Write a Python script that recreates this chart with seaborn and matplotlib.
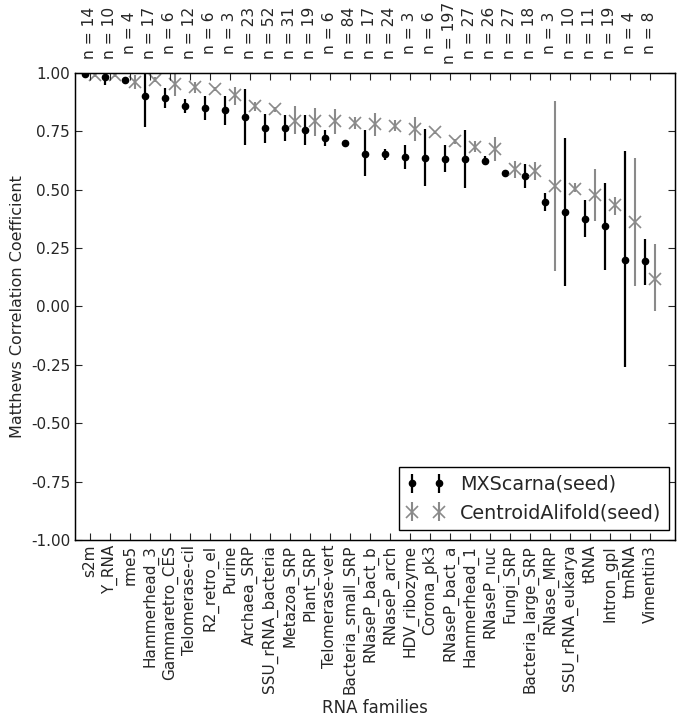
import numpy as np
import matplotlib
matplotlib.use("Agg")
import matplotlib.pyplot as plt
import seaborn as sns

# --- data ---
families = ["s2m", "Y_RNA", "rme5", "Hammerhead_3", "Gammaretro_CES", "Telomerase-cil",
            "R2_retro_el", "Purine", "Archaea_SRP", "SSU_rRNA_bacteria", "Metazoa_SRP",
            "Plant_SRP", "Telomerase-vert", "Bacteria_small_SRP", "RNaseP_bact_b",
            "RNaseP_arch", "HDV_ribozyme", "Corona_pk3", "RNaseP_bact_a", "Hammerhead_1",
            "RNaseP_nuc", "Fungi_SRP", "Bacteria_large_SRP", "RNase_MRP",
            "SSU_rRNA_eukarya", "tRNA", "Intron_gpI", "tmRNA", "Vimentin3"]
n_seqs = [14, 10, 4, 17, 6, 12, 6, 3, 23, 52, 31, 19, 6, 84, 17,
          24, 3, 6, 197, 27, 26, 27, 18, 3, 10, 11, 19, 4, 8]

mx_mean = [0.995, 0.985, 0.968, 0.900, 0.895, 0.858, 0.852, 0.840, 0.813, 0.766,
           0.766, 0.756, 0.720, 0.700, 0.655, 0.651, 0.640, 0.638, 0.633, 0.632,
           0.624, 0.572, 0.557, 0.446, 0.405, 0.376, 0.343, 0.200, 0.193]
mx_low = [0.990, 0.950, 0.966, 0.770, 0.850, 0.828, 0.800, 0.778, 0.692, 0.700,
          0.710, 0.690, 0.687, 0.698, 0.557, 0.627, 0.588, 0.517, 0.576, 0.506,
          0.604, 0.560, 0.506, 0.407, 0.089, 0.297, 0.157, -0.260, 0.093]
mx_high = [1.000, 1.000, 0.970, 1.000, 0.936, 0.890, 0.900, 0.900, 0.932, 0.826,
           0.820, 0.820, 0.754, 0.702, 0.756, 0.675, 0.693, 0.760, 0.690, 0.757,
           0.644, 0.583, 0.610, 0.485, 0.722, 0.455, 0.528, 0.665, 0.289]

ca_mean = [0.990, 0.990, 0.962, 0.970, 0.952, 0.939, 0.933, 0.904, 0.857, 0.844,
           0.795, 0.795, 0.795, 0.785, 0.780, 0.775, 0.760, 0.746, 0.708, 0.684,
           0.675, 0.588, 0.580, 0.518, 0.505, 0.476, 0.435, 0.360, 0.118]
ca_low = [0.985, 0.985, 0.930, 0.960, 0.900, 0.914, 0.924, 0.862, 0.836, 0.834,
          0.740, 0.730, 0.740, 0.760, 0.730, 0.750, 0.708, 0.740, 0.698, 0.660,
          0.623, 0.552, 0.540, 0.154, 0.490, 0.368, 0.390, 0.086, -0.021]
ca_high = [1.000, 1.000, 0.993, 0.985, 1.000, 0.960, 0.942, 0.942, 0.876, 0.855,
           0.860, 0.850, 0.845, 0.810, 0.830, 0.800, 0.810, 0.752, 0.718, 0.710,
           0.726, 0.623, 0.620, 0.880, 0.530, 0.587, 0.470, 0.637, 0.267]

sns.set_style("ticks", {"xtick.direction": "in", "ytick.direction": "in",
                        "axes.edgecolor": "black"})
plt.rcParams["font.family"] = ["DejaVu Sans"]

fig = plt.figure(figsize=(6.83, 7.25), dpi=100)
ax = fig.add_axes([75 / 683, 185 / 725, 600 / 683, 467 / 725])

pos = np.arange(len(families))
mx_mean = np.array(mx_mean)
ca_mean = np.array(ca_mean)
mx_err = [mx_mean - np.array(mx_low), np.array(mx_high) - mx_mean]
ca_err = [ca_mean - np.array(ca_low), np.array(ca_high) - ca_mean]

ax.errorbar(pos - 0.23, mx_mean, yerr=mx_err, fmt="o", color="black", ms=4.5,
            elinewidth=1.6, capsize=0, label="MXScarna(seed)")
ax.errorbar(pos + 0.23, ca_mean, yerr=ca_err, fmt="x", color="#8a8a8a", ms=9, mew=1.2,
            elinewidth=1.5, capsize=0, label="CentroidAlifold(seed)")

ax.set_xlim(-0.75, 29.25)
ax.set_ylim(-1.0, 1.0)
ax.set_yticks(np.arange(-1.0, 1.01, 0.25))
ax.set_yticklabels(["%.2f" % v for v in np.arange(-1.0, 1.01, 0.25)])
ax.set_xticks(pos)
ax.set_xticklabels(families, rotation=90, fontsize=11)
ax.tick_params(axis="y", labelsize=11, right=True, length=5, width=0.8)
ax.tick_params(axis="x", length=5, width=0.8)
for sp in ax.spines.values():
    sp.set_linewidth(1.0)
ax.set_xlabel("RNA families", fontsize=12, labelpad=3)
ax.set_ylabel("Matthews Correlation Coefficient", fontsize=11.5)

# sample counts along the top
ax2 = ax.twiny()
ax2.set_xlim(ax.get_xlim())
ax2.set_xticks(pos)
ax2.set_xticklabels(["n = %d" % n for n in n_seqs], rotation=90, va="center",
                    fontsize=11.2)
ax2.tick_params(axis="x", direction="in", length=5, width=0.8, pad=29)

leg = ax.legend(loc="lower right", bbox_to_anchor=(0.99, 0.021), borderaxespad=0,
                numpoints=2, handlelength=2.0, fontsize=13.8, fancybox=False,
                framealpha=1, edgecolor="black")
leg.get_frame().set_linewidth(1.0)

fig.savefig("out.png", dpi=100)
